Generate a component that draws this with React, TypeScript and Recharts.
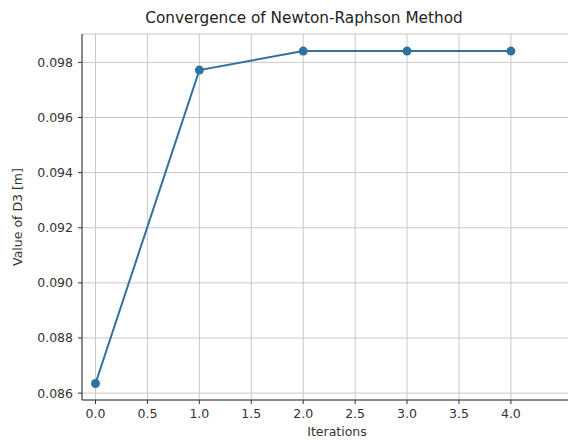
import React from 'react';
import { LineChart, Line, XAxis, YAxis, CartesianGrid, Label } from 'recharts';

const iterations = [0, 1, 2, 3, 4];
const d3Values = [0.08635, 0.09772, 0.09841, 0.09841, 0.09841];
const xTicks = [0, 0.5, 1, 1.5, 2, 2.5, 3, 3.5, 4];
const yTicks = [0.086, 0.088, 0.09, 0.092, 0.094, 0.096, 0.098];

const data = iterations.map((it, i) => ({ it, d3: d3Values[i] }));

const font = '"DejaVu Sans", sans-serif';
const axisColor = '#333';
const xDomain: [number, number] = [-0.13, 4.781];

const App: React.FC = () => {
  return (
    <div style={{ position: 'fixed', top: 0, left: 0, width: 568, height: 440, overflow: 'hidden', background: '#fff', fontFamily: font }}>
      <div style={{ position: 'absolute', top: 9, left: 0, width: 608, textAlign: 'center', fontSize: 15.3, color: '#222' }}>
        Convergence of Newton-Raphson Method
      </div>
      <LineChart width={600} height={440} data={data} margin={{ top: 34, right: 8, left: 0, bottom: 0 }}>
        <CartesianGrid stroke="#c8c8c8" strokeWidth={1} />
        <XAxis
          dataKey="it"
          type="number"
          domain={xDomain}
          ticks={xTicks}
          allowDataOverflow
          height={40}
          tickSize={4}
          tickMargin={5}
          stroke={axisColor}
          tick={{ fill: '#333', fontSize: 12.5, fontFamily: font }}
          tickFormatter={(v: number) => v.toFixed(1)}
        >
          <Label value="Iterations" position="insideBottom" offset={4} style={{ fill: '#333', fontSize: 12.5, fontFamily: font }} />
        </XAxis>
        <XAxis xAxisId="top" orientation="top" dataKey="it" type="number" domain={xDomain} height={0} tick={false} tickLine={false} stroke={axisColor} />
        <YAxis
          type="number"
          domain={[0.08575, 0.09903]}
          ticks={yTicks}
          allowDataOverflow
          width={82}
          tickSize={4}
          tickMargin={5}
          stroke={axisColor}
          tick={{ fill: '#333', fontSize: 12.5, fontFamily: font }}
          tickFormatter={(v: number) => v.toFixed(3)}
        >
          <Label value="Value of D3 [m]" angle={-90} position="insideLeft" offset={18} style={{ fill: '#333', fontSize: 12.5, fontFamily: font, textAnchor: 'middle' }} />
        </YAxis>
        <Line
          dataKey="d3"
          type="linear"
          stroke="#2f72a0"
          strokeWidth={2}
          dot={{ r: 4.5, fill: '#2f72a0', stroke: '#2f72a0', strokeWidth: 0 }}
          isAnimationActive={false}
        />
      </LineChart>
    </div>
  );
};

export default App;
